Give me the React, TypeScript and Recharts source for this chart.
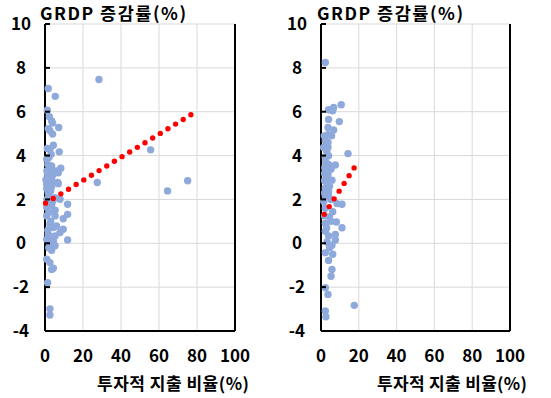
import React from "react";
import { ScatterChart, Scatter, XAxis, YAxis, CartesianGrid } from "recharts";

// ---- data ----
const xTicks = [0, 20, 40, 60, 80, 100];
const yTicks = [-4, -2, 0, 2, 4, 6, 8, 10];
const titleText = "GRDP 증감률(%)";
const xLabelText = "투자적 지출 비율(%)";

// panel A: [투자적 지출 비율, GRDP 증감률]
const pointsA: [number, number][] = [
  [1.7, 7.06], [5.4, 6.7], [28.4, 7.47], [1.2, 6.07], [2.3, 5.77], [3.5, 5.58], [4.0, 5.48],
  [7.2, 5.28], [1.7, 5.23], [2.6, 5.13], [4.0, 4.98], [4.4, 4.47], [1.2, 4.32], [2.6, 4.29],
  [7.5, 4.17], [3.2, 4.06], [0.9, 3.84], [2.1, 3.91], [55.6, 4.26], [75.1, 2.85], [64.5, 2.39],
  [27.5, 2.77], [8.3, 3.42], [3.5, 3.53], [2.6, 3.4], [7.0, 3.22], [5.3, 3.22], [1.4, 3.15],
  [2.6, 3.0], [6.7, 2.77], [0.9, 2.77], [3.5, 2.6], [0.9, 2.5], [1.7, 2.3], [5.3, 2.08],
  [0.9, 2.69], [4.4, 2.75], [7.0, 2.72], [7.9, 2.01], [11.9, 1.78], [3.5, 1.7], [5.3, 1.51],
  [0.9, 1.64], [0.9, 1.25], [5.3, 1.25], [11.9, 1.32], [9.6, 1.12], [2.6, 0.87], [6.1, 0.79],
  [4.4, 0.72], [9.6, 0.64], [7.9, 0.49], [1.7, 0.41], [5.3, 0.33], [11.9, 0.15], [0.9, 0.18],
  [4.4, 0.11], [2.6, -0.04], [5.3, -0.11], [3.5, -0.32], [0.9, -0.73], [2.6, -0.88], [3.5, -1.19],
  [4.4, -1.14], [1.4, -1.8], [2.6, -2.99], [2.6, -3.27], [1.0, 3.3], [2.0, 2.2], [3.0, 2.4],
  [0.5, 2.9], [4.0, 3.1], [1.5, 3.6], [6.0, 3.3], [2.5, 2.0], [1.0, 2.0], [3.5, 2.9],
  [2.0, 1.4], [3.0, 1.0], [1.5, 0.6], [3.0, 0.3], [2.0, -0.2], [4.0, 1.9], [1.5, 2.6],
];
const trendA: [number, number][] = [[0.3, 1.83], [77, 5.87]];

// panel B
const pointsB: [number, number][] = [
  [2.3, 8.25], [10.7, 6.32], [6.7, 6.19], [4.0, 6.09], [6.2, 6.04], [4.0, 5.65], [9.7, 5.55],
  [3.7, 5.28], [6.7, 5.17], [1.7, 4.9], [3.7, 4.95], [5.6, 4.9], [2.3, 4.67], [3.7, 4.6],
  [1.4, 4.37], [3.7, 4.37], [14.3, 4.09], [4.0, 3.99], [2.3, 3.91], [4.0, 3.6], [7.6, 3.57],
  [2.0, 3.45], [5.3, 3.38], [1.9, 3.18], [3.7, 3.15], [5.8, 2.88], [1.9, 2.85], [3.2, 2.57],
  [1.9, 2.3], [4.0, 2.2], [3.2, 2.77], [2.3, 2.51], [4.0, 2.36], [2.3, 2.16], [5.3, 2.0],
  [11.1, 1.78], [8.5, 1.81], [2.3, 1.6], [6.2, 1.44], [1.9, 1.25], [8.1, 0.97], [2.3, 0.9],
  [5.3, 1.0], [11.1, 0.71], [2.3, 0.55], [7.6, 0.4], [4.0, 0.33], [7.6, 0.15], [3.2, 0.06],
  [5.8, -0.09], [2.3, -0.43], [6.2, -0.5], [4.0, -0.78], [5.8, -1.19], [5.3, -1.5], [2.3, -2.03],
  [3.7, -2.33], [17.6, -2.83], [2.3, -3.09], [2.6, -3.35], [3.0, 3.0], [1.5, 1.9], [4.5, 1.2],
  [3.0, 0.7], [4.5, -0.2], [3.0, 4.2], [2.5, 3.7], [4.5, 2.6],
];
const trendB: [number, number][] = [[1.7, 1.32], [17.6, 3.45]];

// ---- styles ----
const FONT = "'Noto Sans CJK KR', 'Noto Sans', sans-serif";
const DOT = "#8EA9DB";
const W = 551;
const H = 398;
const LEFT_AXIS_W = 45;
const RIGHT_AXIS_W = 40;

const toObj = (arr: [number, number][]) => arr.map(([x, y]) => ({ x, y }));

function Panel({ points, trend, left, width, dash }: { points: [number, number][]; trend: [number, number][]; left: number; width: number; dash: string }) {
  const plotLeft = LEFT_AXIS_W;
  const plotRight = width - RIGHT_AXIS_W;
  const LeftTick = (p: any) => (
    <g>
      <line x1={plotLeft} x2={plotLeft + 5} y1={p.y} y2={p.y} stroke="#000" strokeWidth={2} />
      <text x={21} y={p.y} dy="0.36em" textAnchor="middle" fontFamily={FONT} fontWeight={700} fontSize={17} fill="#000">
        {p.payload.value}
      </text>
    </g>
  );
  const RightTick = (p: any) => (
    <g>
      <line x1={plotRight - 5} x2={plotRight} y1={p.y} y2={p.y} stroke="#000" strokeWidth={2} />
      <text x={plotRight + 15} y={p.y} dy="0.36em" textAnchor="start" fontFamily={FONT} fontWeight={700} fontSize={17} fill="#000">
        {p.payload.value}
      </text>
    </g>
  );
  const BottomTick = (p: any) => (
    <text x={p.x} y={p.y} dy={31} textAnchor="middle" fontFamily={FONT} fontWeight={700} fontSize={17} fill="#000">
      {p.payload.value}
    </text>
  );
  return (
    <div style={{ position: "absolute", left, top: 0 }}>
      <ScatterChart width={width} height={H} margin={{ top: 24, right: 0, bottom: 27, left: 0 }}>
        <CartesianGrid stroke="#d9d9d9" strokeWidth={1} yAxisId="l" />
        <XAxis
          type="number"
          dataKey="x"
          domain={[0, 100]}
          ticks={xTicks}
          interval={0}
          height={40}
          tickLine={false}
          axisLine={{ stroke: "#000", strokeWidth: 2 }}
          tick={<BottomTick />}
          tickMargin={0}
          tickSize={0}
        />
        <YAxis
          yAxisId="l"
          type="number"
          dataKey="y"
          domain={[-4, 10]}
          ticks={yTicks}
          interval={0}
          width={LEFT_AXIS_W}
          tickLine={false}
          axisLine={{ stroke: "#000", strokeWidth: 2 }}
          tick={<LeftTick />}
        />
        <YAxis
          yAxisId="r"
          orientation="right"
          type="number"
          dataKey="y"
          domain={[-4, 10]}
          ticks={yTicks}
          interval={0}
          width={RIGHT_AXIS_W}
          tickLine={false}
          axisLine={{ stroke: "#000", strokeWidth: 2 }}
          tick={<RightTick />}
        />
        <Scatter yAxisId="l" data={toObj(points)} fill={DOT} isAnimationActive={false} shape={(p: any) => <circle cx={p.cx} cy={p.cy} r={3.7} fill={DOT} />} />
        <Scatter
          yAxisId="l"
          data={toObj(trend)}
          fill="#FF0000"
          isAnimationActive={false}
          shape={() => <g />}
          line={{ stroke: "#FF0000", strokeWidth: 5.4, strokeDasharray: dash, strokeLinecap: "round" }}
        />
      </ScatterChart>
    </div>
  );
}

export default function App() {
  const textStyle = { fontFamily: FONT, fontWeight: 700, fontSize: 17, fill: "#000" } as const;
  return (
    <div style={{ position: "absolute", left: 0, top: 0, width: W, height: H, background: "#fff", overflow: "hidden" }}>
      <Panel points={pointsA} trend={trendA} left={0} width={275} dash="0 8.95" />
      <Panel points={pointsB} trend={trendB} left={276} width={274} dash="0 9.2" />
      <svg width={W} height={H} style={{ position: "absolute", left: 0, top: 0, pointerEvents: "none" }}>
        <text x={40} y={20} {...textStyle} fontSize={17.5} style={{ letterSpacing: "1.5px" }}>{titleText}</text>
        <text x={317} y={20} {...textStyle} fontSize={17.5} style={{ letterSpacing: "1.5px" }}>{titleText}</text>
        <text x={97} y={390} textLength={152} lengthAdjust="spacing" {...textStyle}>{xLabelText}</text>
        <text x={377} y={390} textLength={150} lengthAdjust="spacing" {...textStyle}>{xLabelText}</text>
      </svg>
    </div>
  );
}
